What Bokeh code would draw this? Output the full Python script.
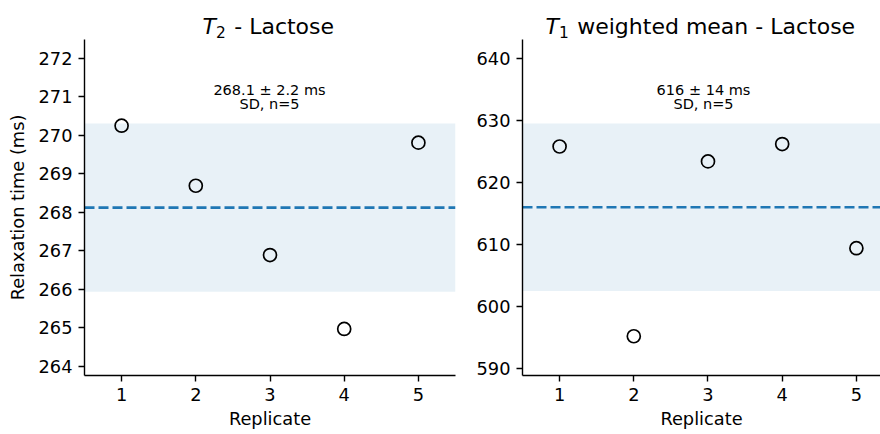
from bokeh.plotting import figure
from bokeh.layouts import row
from bokeh.models import FixedTicker, Range1d, Span, BoxAnnotation, Label
from bokeh.embed import file_html
from bokeh.resources import INLINE
import numpy as np

# ---------------- data ----------------
replicates = [1, 2, 3, 4, 5]
t2_values = [270.25, 268.69, 266.89, 264.97, 269.81]
t1_values = [625.8, 595.2, 623.4, 626.2, 609.4]

t2_title = ["T", "2", "- Lactose"]
t1_title = ["T", "1", "weighted mean - Lactose"]
t2_stats = ["268.1 \u00b1 2.2 ms", "SD, n=5"]
t1_stats = ["616 \u00b1 14 ms", "SD, n=5"]

x_ticks = [1, 2, 3, 4, 5]
t2_yticks = [264, 265, 266, 267, 268, 269, 270, 271, 272]
t1_yticks = [590, 600, 610, 620, 630, 640]
y_label = "Relaxation time (ms)"
x_label = "Replicate"

FONT = "DejaVu Sans"
TICK_FS = "17.8px"
TITLE_PX = 22.0
TITLE_FS = "22px"
SUB_PX = 15.4
SUB_FS = "15.4px"
NOTE_FS = "14.5px"
BLUE = "#1f77b4"
H = 434
TOP = 39          # pixel row where the axes area starts
BOTTOM = 59       # space below the axes area
LABEL_W = 35      # strip holding the y-axis label


def make_panel(values, title_parts, stats, yticks, y_lim, x_end, width, x_origin,
               border_left, border_right, title_px, stats_off):
    y0, y1 = y_lim
    axes_h = H - TOP - BOTTOM
    y_ext = y1 + TOP * (y1 - y0) / axes_h   # extend range so titles sit inside frame
    p = figure(width=width, height=H, output_backend="svg", toolbar_location=None,
               x_range=Range1d(0.5, x_end), y_range=Range1d(y0, y_ext),
               min_border_left=border_left, min_border_right=border_right,
               min_border_top=0, min_border_bottom=BOTTOM)
    p.outline_line_color = None
    p.grid.visible = False
    p.background_fill_color = "white"
    p.border_fill_color = "white"

    vals = np.array(values, dtype=float)
    mean = vals.mean()
    sd = vals.std(ddof=1)

    p.add_layout(BoxAnnotation(bottom=mean - sd, top=mean + sd, fill_color=BLUE,
                               fill_alpha=0.1, line_color=None, level="underlay"))
    p.add_layout(Span(location=mean, dimension="width", line_color=BLUE,
                      line_width=2.6, line_dash="10 4", level="underlay"))

    p.scatter(replicates, values, size=13, marker="circle", fill_alpha=0,
              line_color="black", line_width=1.7)

    for ax in (p.xaxis[0], p.yaxis[0]):
        ax.axis_line_width = 1.4
        ax.axis_line_color = "black"
        ax.major_tick_line_width = 1.4
        ax.major_tick_line_color = "black"
        ax.major_tick_out = 6
        ax.major_tick_in = 0
        ax.minor_tick_out = 0
        ax.minor_tick_in = 0
        ax.major_label_text_font = FONT
        ax.major_label_text_font_size = TICK_FS
        ax.major_label_text_color = "black"
        ax.major_label_standoff = 6
        ax.axis_label_text_font = FONT
        ax.axis_label_text_font_size = TICK_FS
        ax.axis_label_text_font_style = "normal"
        ax.axis_label_text_color = "black"
    p.xaxis.ticker = FixedTicker(ticks=x_ticks)
    p.yaxis.ticker = FixedTicker(ticks=yticks)
    p.yaxis.bounds = (y0, y1)
    p.xaxis.axis_label = x_label
    p.xaxis.axis_label_standoff = 4

    xa, ya = 0.5, y_ext   # frame top-left corner
    # stats annotation
    p.add_layout(Label(x=xa, y=ya, x_offset=stats_off, y_offset=-89.0, text=stats[0],
                       text_font=FONT, text_font_size=NOTE_FS, text_color="black",
                       text_align="center", text_baseline="alphabetic"))
    p.add_layout(Label(x=xa, y=ya, x_offset=stats_off, y_offset=-103.5, text=stats[1],
                       text_font=FONT, text_font_size=NOTE_FS, text_color="black",
                       text_align="center", text_baseline="alphabetic"))
    # title: italic T, subscript, rest
    base = 26.0
    t_adv = 0.611 * TITLE_PX
    sub_adv = 0.636 * SUB_PX
    space = 0.318 * TITLE_PX
    tx = title_px - (x_origin + border_left)
    p.add_layout(Label(x=xa, y=ya, x_offset=tx, y_offset=-base, text=title_parts[0],
                       text_font=FONT, text_font_style="italic", text_font_size=TITLE_FS,
                       text_color="black", text_align="left", text_baseline="alphabetic"))
    p.add_layout(Label(x=xa, y=ya, x_offset=tx + t_adv, y_offset=-(base + 5.0),
                       text=title_parts[1], text_font=FONT, text_font_size=SUB_FS,
                       text_color="black", text_align="left", text_baseline="alphabetic"))
    p.add_layout(Label(x=xa, y=ya, x_offset=tx + t_adv + sub_adv + 1.5 + space,
                       y_offset=-base, text=title_parts[2], text_font=FONT,
                       text_font_size=TITLE_FS, text_color="black",
                       text_align="left", text_baseline="alphabetic"))
    return p


# narrow strip carrying the shared y-axis label; its frame is aligned by the row
# with the panels' frames (rows 0..H-BOTTOM), so data units = pixels from the top
label_strip = figure(width=LABEL_W, height=H, output_backend="svg", toolbar_location=None,
                     x_range=Range1d(0, LABEL_W), y_range=Range1d(H - BOTTOM, 0),
                     x_axis_location=None, y_axis_location=None,
                     min_border_left=0, min_border_right=0,
                     min_border_top=0, min_border_bottom=BOTTOM)
label_strip.outline_line_color = None
label_strip.grid.visible = False
label_strip.background_fill_color = "white"
label_strip.border_fill_color = "white"
label_strip.add_layout(Label(x=17, y=(TOP + H - BOTTOM) / 2, text=y_label, angle=np.pi / 2,
                             text_font=FONT, text_font_size=TICK_FS, text_color="black",
                             text_align="center", text_baseline="alphabetic"))

left = make_panel(t2_values, t2_title, t2_stats, t2_yticks, (263.76, 272.49), 5.5,
                  460 - LABEL_W, LABEL_W, 84 - LABEL_W, 5, 202, 185)
right = make_panel(t1_values, t1_title, t1_stats, t1_yticks, (588.87, 643.06), 5.325,
                   420, 460, 62, 0, 545, 181)

layout = row(label_strip, left, right)
open("out.html", "w").write(file_html(layout, INLINE))
